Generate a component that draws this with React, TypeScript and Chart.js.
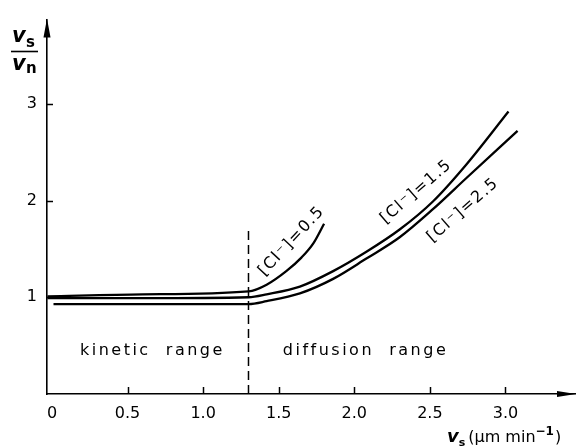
import React, { useEffect, useRef } from "react";
import { Chart, registerables } from "chart.js";

Chart.register(...registerables);

// ---- data ----
const xTickValues = [0, 0.5, 1.0, 1.5, 2.0, 2.5, 3.0];
const xTickLabels = ["0", "0.5", "1.0", "1.5", "2.0", "2.5", "3.0"];
const yTickValues = [1, 2, 3];
const yTickLabels = ["1", "2", "3"];

const cl05X = [-0.03, 0.6, 1.3, 1.42, 1.55, 1.65, 1.73, 1.8];
const cl05Y = [1.01, 1.03, 1.06, 1.13, 1.27, 1.41, 1.56, 1.76];

const cl15X = [-0.03, 0.6, 1.3, 1.42, 1.64, 1.86, 2.08, 2.3, 2.52, 2.74, 3.02];
const cl15Y = [0.99, 0.99, 1.0, 1.03, 1.11, 1.27, 1.47, 1.7, 1.99, 2.37, 2.92];

const cl25X = [0.01, 0.6, 1.3, 1.42, 1.64, 1.86, 2.08, 2.3, 2.52, 2.74, 3.08];
const cl25Y = [0.93, 0.93, 0.93, 0.96, 1.04, 1.19, 1.4, 1.62, 1.91, 2.23, 2.72];

const boundaryX = [1.3, 1.3];
const boundaryY = [0, 1.71];

const seriesLabels = ["[Cl\u207B]=0.5", "[Cl\u207B]=1.5", "[Cl\u207B]=2.5"];
const rangeLabels = ["kinetic  range", "diffusion  range"];

const pts = (xs: number[], ys: number[]) => xs.map((x, i) => ({ x, y: ys[i] }));

const FONT = "'DejaVu Sans', sans-serif";

const annotate = {
  id: "annotate",
  afterDraw(chart: any) {
    const ctx = chart.ctx as CanvasRenderingContext2D;
    const xs = chart.scales.x;
    const ys = chart.scales.y;
    const area = chart.chartArea;
    ctx.save();
    ctx.fillStyle = "#000";
    ctx.strokeStyle = "#000";

    // inward tick marks
    ctx.lineWidth = 1.5;
    xTickValues.forEach((v) => {
      if (v === 0) return;
      const px = Math.round(xs.getPixelForValue(v)) + 0.5;
      ctx.beginPath();
      ctx.moveTo(px, area.bottom);
      ctx.lineTo(px, area.bottom - 7);
      ctx.stroke();
    });
    yTickValues.forEach((v) => {
      const py = Math.round(ys.getPixelForValue(v)) + 0.5;
      ctx.beginPath();
      ctx.moveTo(area.left, py);
      ctx.lineTo(area.left + 6, py);
      ctx.stroke();
    });

    // arrows
    ctx.beginPath();
    ctx.moveTo(area.left, area.top - 1);
    ctx.lineTo(area.left - 3.5, area.top + 18);
    ctx.lineTo(area.left + 3.5, area.top + 18);
    ctx.closePath();
    ctx.fill();
    ctx.beginPath();
    ctx.moveTo(area.right + 1, area.bottom);
    ctx.lineTo(area.right - 18, area.bottom - 3);
    ctx.lineTo(area.right - 18, area.bottom + 3);
    ctx.closePath();
    ctx.fill();

    // range labels
    ctx.font = `16px ${FONT}`;
    (ctx as any).letterSpacing = "2.5px";
    ctx.textBaseline = "alphabetic";
    ctx.textAlign = "left";
    ctx.fillText(rangeLabels[0], xs.getPixelForValue(0.185), ys.getPixelForValue(0.4));
    ctx.fillText(rangeLabels[1], xs.getPixelForValue(1.527), ys.getPixelForValue(0.4));

    // rotated series labels
    (ctx as any).letterSpacing = "1.5px";
    ctx.font = `16px ${FONT}`;
    ctx.textAlign = "center";
    ctx.textBaseline = "middle";
    const rot = [
      { x: 1.586, y: 1.58, a: -47 },
      { x: 2.41, y: 2.09, a: -41 },
      { x: 2.72, y: 1.9, a: -41 },
    ];
    rot.forEach((r, i) => {
      ctx.save();
      ctx.translate(xs.getPixelForValue(r.x), ys.getPixelForValue(r.y));
      ctx.rotate((r.a * Math.PI) / 180);
      ctx.fillText(seriesLabels[i], 0, 0);
      ctx.restore();
    });
    (ctx as any).letterSpacing = "0px";

    // y-axis title: v_s / v_n
    ctx.textAlign = "left";
    ctx.textBaseline = "alphabetic";
    ctx.font = `italic bold 21px ${FONT}`;
    ctx.fillText("v", 12, 42);
    ctx.fillText("v", 12, 70);
    ctx.font = `bold 15px ${FONT}`;
    ctx.fillText("s", 26, 47);
    ctx.fillText("n", 26, 73);
    ctx.lineWidth = 1.6;
    ctx.beginPath();
    ctx.moveTo(11, 51.5);
    ctx.lineTo(38, 51.5);
    ctx.stroke();

    // x-axis title: v_s (μm min^-1)
    let x = 447;
    ctx.font = `italic bold 18px ${FONT}`;
    ctx.fillText("v", x, 442);
    x += ctx.measureText("v").width;
    ctx.font = `bold 11px ${FONT}`;
    ctx.fillText("s", x, 446);
    x += ctx.measureText("s").width + 3;
    ctx.font = `16px ${FONT}`;
    ctx.fillText("(\u03BCm min", x, 442);
    x += ctx.measureText("(\u03BCm min").width;
    ctx.font = `bold 12px ${FONT}`;
    ctx.fillText("\u22121", x, 435);
    x += ctx.measureText("\u22121").width + 1;
    ctx.font = `16px ${FONT}`;
    ctx.fillText(")", x, 442);

    ctx.restore();
  },
};

export default function App() {
  const ref = useRef<HTMLCanvasElement | null>(null);

  useEffect(() => {
    document.body.style.margin = "0";
    const canvas = ref.current;
    if (!canvas) return;
    const lineDs = (xs: number[], ys: number[]) => ({
      data: pts(xs, ys),
      showLine: true,
      borderColor: "#000",
      borderWidth: 2.3,
      pointRadius: 0,
      tension: 0.4,
      cubicInterpolationMode: "monotone" as const,
      fill: false,
    });
    const chart = new Chart(canvas, {
      type: "scatter",
      data: {
        datasets: [
          lineDs(cl05X, cl05Y),
          lineDs(cl15X, cl15Y),
          lineDs(cl25X, cl25Y),
          {
            data: pts(boundaryX, boundaryY),
            showLine: true,
            borderColor: "#000",
            borderWidth: 1.5,
            borderDash: [9, 5],
            pointRadius: 0,
            fill: false,
          },
        ],
      },
      options: {
        responsive: false,
        animation: false,
        devicePixelRatio: 1,
        layout: { padding: { top: 15, right: 1, left: 0, bottom: 0 } },
        plugins: { legend: { display: false }, tooltip: { enabled: false } },
        scales: {
          x: {
            type: "linear",
            min: -0.033,
            max: 3.46,
            grid: { display: false, drawTicks: false },
            border: { display: true, color: "#000", width: 1.6 },
            afterBuildTicks: (scale: any) => {
              scale.ticks = xTickValues.map((v) => ({ value: v }));
            },
            afterFit: (scale: any) => {
              scale.height = 52;
            },
            ticks: {
              color: "#000",
              padding: 10,
              maxRotation: 0,
              autoSkip: false,
              font: { family: FONT, size: 16 },
              callback: (v: any) => {
                const i = xTickValues.indexOf(Number(v));
                return i >= 0 ? xTickLabels[i] : "";
              },
            },
          },
          y: {
            type: "linear",
            min: 0,
            max: 3.87,
            grid: { display: false, drawTicks: false },
            border: { display: true, color: "#000", width: 1.6 },
            afterBuildTicks: (scale: any) => {
              scale.ticks = yTickValues.map((v) => ({ value: v }));
            },
            afterFit: (scale: any) => {
              scale.width = 47;
            },
            ticks: {
              color: "#000",
              padding: 10,
              autoSkip: false,
              font: { family: FONT, size: 16 },
              callback: (v: any) => {
                const i = yTickValues.indexOf(Number(v));
                return i >= 0 ? yTickLabels[i] : "";
              },
            },
          },
        },
      },
      plugins: [annotate],
    });
    return () => chart.destroy();
  }, []);

  return (
    <canvas
      ref={ref}
      width={576}
      height={446}
      style={{ display: "block", width: 576, height: 446 }}
    />
  );
}
